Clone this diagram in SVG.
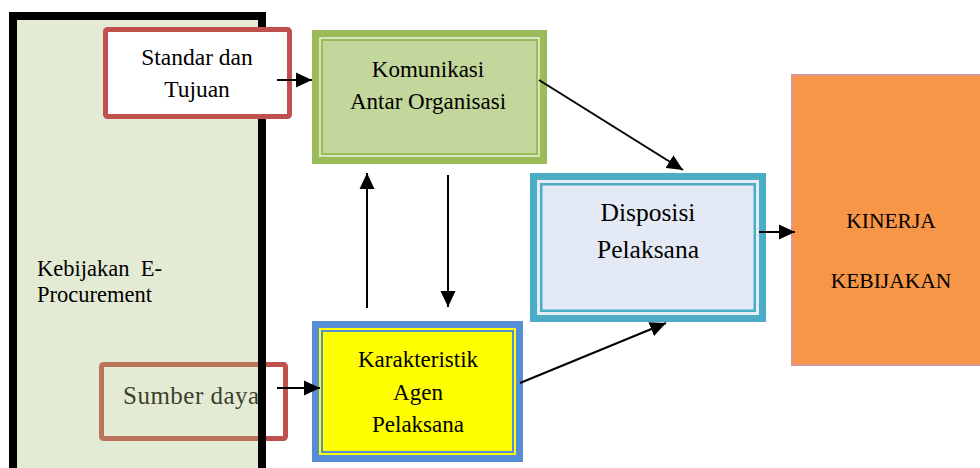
<svg xmlns="http://www.w3.org/2000/svg" width="980" height="468" viewBox="0 0 980 468">
  <defs>
    <marker id="arr" markerUnits="userSpaceOnUse" markerWidth="16" markerHeight="16" refX="16" refY="8" orient="auto" viewBox="0 0 16 16">
      <path d="M0,0.5 L16,8 L0,15.5 z" fill="#000"/>
    </marker>
  </defs>
  <style>
    text { font-family: "Liberation Serif", "Times New Roman", serif; fill: #000; }
    .c { text-anchor: middle; }
    .conn line { stroke: #000; stroke-width: 2; marker-end: url(#arr); }
  </style>
  <rect width="980" height="468" fill="#fff"/>

  <g id="sumber-daya">
    <rect x="101.5" y="364.5" width="184" height="74" rx="2" fill="#fff" stroke="#C0504D" stroke-width="5"/>
    <text x="123" y="404" font-size="25" letter-spacing="0.5">Sumber daya</text>
  </g>

  <g id="kebijakan">
    <rect x="13" y="16" width="249" height="470" fill="#ABC07C" fill-opacity="0.32" stroke="#000" stroke-width="8"/>
    <text x="37" y="276" font-size="22.5" style="white-space:pre" xml:space="preserve">Kebijakan  E-</text>
    <text x="37" y="302" font-size="22.5">Procurement</text>
  </g>

  <g id="standar">
    <rect x="105.5" y="29.5" width="184" height="87" rx="2" fill="#fff" stroke="#C0504D" stroke-width="5"/>
    <text class="c" x="197" y="65" font-size="23.5">Standar dan</text>
    <text class="c" x="197" y="97" font-size="23.5">Tujuan</text>
  </g>

  <g id="komunikasi">
    <rect x="312" y="30" width="235" height="134" fill="#9BBB59"/>
    <rect x="319" y="37" width="221" height="120" fill="#D7E4BD"/>
    <rect x="321" y="39" width="217" height="116" fill="#9BBB59"/>
    <rect x="323" y="41" width="213" height="112" fill="#C3D69B"/>
    <text class="c" x="428" y="77" font-size="23">Komunikasi</text>
    <text class="c" x="428" y="109" font-size="23">Antar Organisasi</text>
  </g>

  <g id="karakteristik">
    <rect x="312" y="321" width="211" height="141" fill="#558ED5"/>
    <rect x="319" y="328" width="197" height="127" fill="#FFFF00"/>
    <rect x="321" y="330" width="193" height="123" fill="#558ED5"/>
    <rect x="323" y="332" width="189" height="119" fill="#FFFF00"/>
    <text class="c" x="418" y="367" font-size="23">Karakteristik</text>
    <text class="c" x="418" y="400" font-size="23">Agen</text>
    <text class="c" x="418" y="432" font-size="23">Pelaksana</text>
  </g>

  <g id="disposisi">
    <rect x="530" y="173" width="236" height="149" fill="#4BACC6"/>
    <rect x="537" y="180" width="222" height="135" fill="#E6ECF6"/>
    <rect x="540" y="183" width="216" height="129" fill="#4BACC6"/>
    <rect x="542.5" y="185.5" width="211" height="124" fill="#E4EAF5"/>
    <text class="c" x="648" y="221" font-size="25.5">Disposisi</text>
    <text class="c" x="648" y="258" font-size="25.5">Pelaksana</text>
  </g>

  <g id="kinerja">
    <rect x="792" y="75" width="200" height="290" fill="#F79646" stroke="#D99694" stroke-width="2"/>
    <text class="c" x="891" y="228" font-size="21.5">KINERJA</text>
    <text class="c" x="891" y="288" font-size="21.5">KEBIJAKAN</text>
  </g>

  <g id="connectors" class="conn">
    <line x1="277" y1="80" x2="312" y2="80"/>
    <line x1="277" y1="388" x2="320" y2="388"/>
    <line x1="539" y1="80" x2="683" y2="170"/>
    <line x1="520" y1="383" x2="666" y2="323"/>
    <line x1="367" y1="308" x2="367" y2="173"/>
    <line x1="448" y1="175" x2="448" y2="307"/>
    <line x1="759" y1="232" x2="795" y2="232"/>
  </g>
</svg>
